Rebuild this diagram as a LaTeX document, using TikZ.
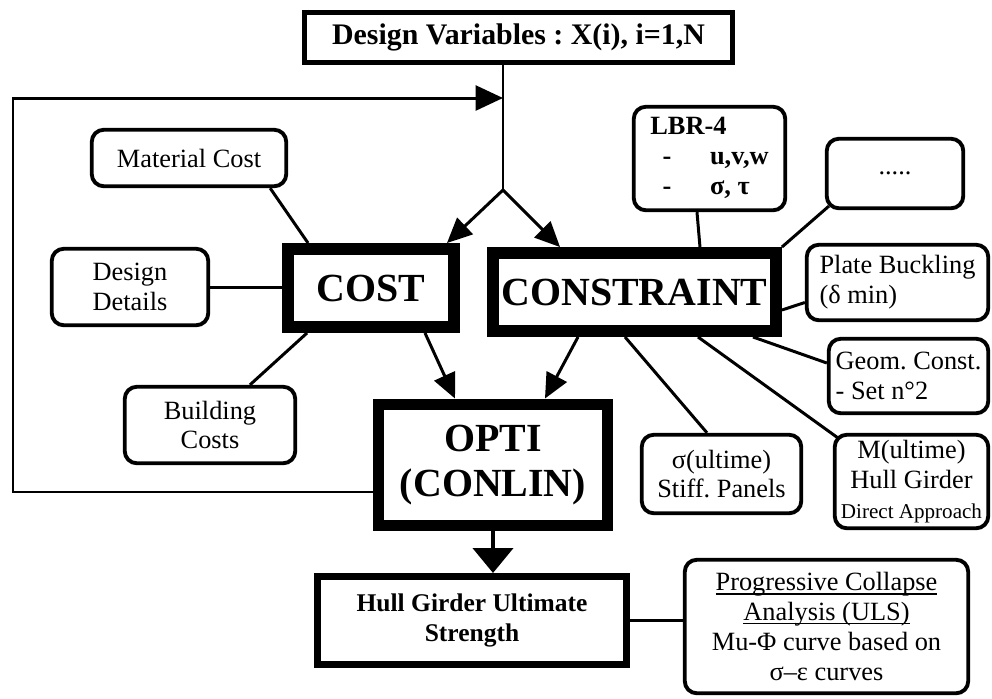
\documentclass[tikz,border=0pt]{standalone}
\usepackage{fontspec}
\setmainfont{Liberation Serif}
\usetikzlibrary{arrows.meta}
\frenchspacing
\newcommand{\ulText}[1]{\setbox0\hbox{#1}\rlap{\rule[-2.2pt]{\wd0}{0.9pt}}\box0}

\begin{document}
\begin{tikzpicture}[x=0.02cm, y=-0.02cm,
  rbox/.style={draw, rounded corners=0.24cm, line width=2.2pt, align=center, inner sep=1pt,
               font=\fontsize{15}{17}\selectfont},
  heavy/.style={draw, line width=6.8pt, align=center, inner sep=1pt,
                font=\bfseries\fontsize{22.7}{25.5}\selectfont},
  link/.style={line width=1.7pt},
  arr/.style={line width=1.7pt, -{Triangle[length=0.5cm, width=0.45cm]}}
]
\useasboundingbox (0,0) rectangle (992,698);

% Main chain
\node[draw, line width=2.8pt, minimum width=8.56cm, minimum height=1cm,
      font=\bfseries\fontsize{17}{20}\selectfont] (vars) at (518.5,37.5) {Design Variables : X(i), i=1,N};
\node[heavy, minimum width=3.32cm, minimum height=1.56cm] (cost) at (371,288) {COST};
\node[heavy, minimum width=5.66cm, minimum height=1.56cm] (constr) at (634.5,292) {CONSTRAINT};
\node[heavy, minimum width=4.58cm, minimum height=2.42cm] (opti) at (493,465) {OPTI\\(CONLIN)};
\node[draw, line width=4pt, minimum width=6.18cm, minimum height=1.76cm, align=center,
      font=\bfseries\fontsize{14.5}{17}\selectfont] (hull) at (472,620.5) {Hull Girder Ultimate\\Strength};

% Cost inputs
\node[rbox, minimum width=3.89cm, minimum height=1.13cm] (mat) at (189,158) {Material Cost};
\node[rbox, minimum width=3.13cm, minimum height=1.53cm] (det) at (130,287) {Design\\Details};
\node[rbox, minimum width=3.41cm, minimum height=1.53cm] (build) at (210,425) {Building\\Costs};

% Constraint inputs
\node[rbox, minimum width=3.03cm, minimum height=2.07cm, font=\bfseries\fontsize{15}{17}\selectfont] (lbr) at (709.5,158.5)
  {\begin{tabular}{@{}l@{\hspace{22pt}}l@{}}\multicolumn{2}{@{}l@{}}{LBR-4}\\\hspace{7pt}-&u,v,w\\\hspace{7pt}-&σ, τ\end{tabular}};
\node[rbox, minimum width=2.73cm, minimum height=1.39cm] (dots) at (895,173.5) {.....};
\node[rbox, minimum width=3.63cm, minimum height=1.51cm, align=left] (plate) at (897.5,282.5) {Plate Buckling\\(δ min)};
\node[rbox, minimum width=3.19cm, minimum height=1.49cm, align=left] (geom) at (908.5,376) {Geom. Const.\\- Set n°2};
\node[rbox, minimum width=3.19cm, minimum height=1.57cm] (sig) at (721.5,474) {σ(ultime)\\Stiff. Panels};
\node[rbox, minimum width=3.07cm, minimum height=1.87cm] (mult) at (911.5,481.5)
  {M(ultime)\\Hull Girder\\{\fontsize{12}{14}\selectfont Direct Approach}};

% Analysis
\node[rbox, minimum width=5.67cm, minimum height=2.67cm] (prog) at (826.5,626.5)
  {\ulText{Progressive Collapse}\\\ulText{Analysis (ULS)}\\Mu-Φ curve based on\\σ–ε curves};

% Connectors
\coordinate (split) at (503,190);
\coordinate (back) at (13,98);
\draw[link] (split |- vars.south) -- (split);
\draw[arr] (split) -- ([xshift=-0.26cm]cost.north east);
\draw[arr] (split) -- ([xshift=1.46cm]constr.north west);
\draw[arr, -{Triangle[length=0.55cm, width=0.5cm]}] ([yshift=-0.54cm]opti.west) -| (back) -- (split |- back);

\draw[link] ([xshift=-0.36cm]mat.south east) -- ([xshift=0.52cm]cost.north west);
\draw[link] (det.east) -- (det.east -| cost.west);
\draw[link] ([xshift=0.8cm]build.north) -- ([xshift=0.5cm]cost.south west);
\draw[arr] ([xshift=1.08cm]cost.south) -- ([xshift=-0.76cm]opti.north);
\draw[arr] ([xshift=-1.13cm]constr.south) -- ([xshift=1.04cm]opti.north);
\draw[line width=2.5pt, -{Triangle[length=0.5cm, width=0.8cm]}] (opti.south) -- (opti.south |- hull.north);
\draw[link] (hull.east) -- (hull.east -| prog.west);

\draw[link] ([xshift=-0.25cm]lbr.south) -- ([xshift=1.31cm]constr.north);
\draw[link] ([xshift=0.08cm,yshift=0.08cm]dots.south west) -- (constr.north east);
\draw[link] ([yshift=-0.36cm]constr.east) -- ([yshift=-0.4cm]plate.west);
\draw[link] ([xshift=-0.58cm]constr.south east) -- ([yshift=0.26cm]geom.west);
\draw[link] ([xshift=-0.19cm]constr.south) -- ([xshift=-0.29cm]sig.north);
\draw[link] ([xshift=1.27cm]constr.south) -- ([xshift=0.1cm,yshift=-0.1cm]mult.north west);

\end{tikzpicture}
\end{document}
